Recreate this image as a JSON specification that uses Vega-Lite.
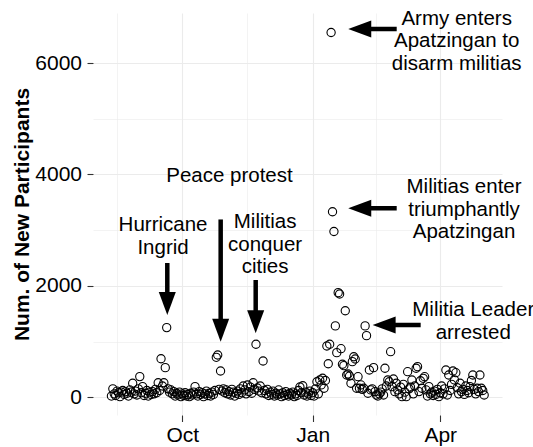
{
  "$schema": "https://vega.github.io/schema/vega-lite/v6.json",
  "width": 409,
  "height": 402,
  "autosize": {"type": "none"},
  "padding": {"left": 93, "top": 13, "right": 31, "bottom": 32},
  "background": "white",
  "config": {"view": {"stroke": null}, "font": "Liberation Sans"},
  "datasets": {
    "counts": [
      {"date":"2013-08-12","participants":20},{"date":"2013-08-13","participants":150},{"date":"2013-08-14","participants":60},{"date":"2013-08-15","participants":30},{"date":"2013-08-16","participants":110},{"date":"2013-08-17","participants":80},{"date":"2013-08-18","participants":10},{"date":"2013-08-19","participants":90},{"date":"2013-08-20","participants":120},{"date":"2013-08-21","participants":50},{"date":"2013-08-22","participants":100},{"date":"2013-08-23","participants":70},{"date":"2013-08-24","participants":20},{"date":"2013-08-25","participants":130},{"date":"2013-08-26","participants":90},{"date":"2013-08-27","participants":250},{"date":"2013-08-28","participants":60},{"date":"2013-08-29","participants":110},{"date":"2013-08-30","participants":40},{"date":"2013-08-31","participants":150},
      {"date":"2013-09-01","participants":370},{"date":"2013-09-02","participants":80},{"date":"2013-09-03","participants":190},{"date":"2013-09-04","participants":30},{"date":"2013-09-05","participants":70},{"date":"2013-09-06","participants":120},{"date":"2013-09-07","participants":20},{"date":"2013-09-08","participants":90},{"date":"2013-09-09","participants":50},{"date":"2013-09-10","participants":100},{"date":"2013-09-11","participants":60},{"date":"2013-09-12","participants":140},{"date":"2013-09-13","participants":80},{"date":"2013-09-14","participants":260},{"date":"2013-09-15","participants":120},{"date":"2013-09-16","participants":690},{"date":"2013-09-17","participants":200},{"date":"2013-09-18","participants":260},{"date":"2013-09-19","participants":530},{"date":"2013-09-20","participants":1250},{"date":"2013-09-21","participants":150},{"date":"2013-09-22","participants":90},{"date":"2013-09-23","participants":130},{"date":"2013-09-24","participants":60},{"date":"2013-09-25","participants":100},{"date":"2013-09-26","participants":20},{"date":"2013-09-27","participants":70},{"date":"2013-09-28","participants":40},{"date":"2013-09-29","participants":90},{"date":"2013-09-30","participants":10},
      {"date":"2013-10-01","participants":60},{"date":"2013-10-02","participants":30},{"date":"2013-10-03","participants":80},{"date":"2013-10-04","participants":20},{"date":"2013-10-05","participants":50},{"date":"2013-10-06","participants":10},{"date":"2013-10-07","participants":70},{"date":"2013-10-08","participants":40},{"date":"2013-10-09","participants":90},{"date":"2013-10-10","participants":190},{"date":"2013-10-11","participants":60},{"date":"2013-10-12","participants":20},{"date":"2013-10-13","participants":100},{"date":"2013-10-14","participants":50},{"date":"2013-10-15","participants":80},{"date":"2013-10-16","participants":10},{"date":"2013-10-17","participants":60},{"date":"2013-10-18","participants":110},{"date":"2013-10-19","participants":30},{"date":"2013-10-20","participants":70},{"date":"2013-10-21","participants":20},{"date":"2013-10-22","participants":90},{"date":"2013-10-23","participants":50},{"date":"2013-10-24","participants":120},{"date":"2013-10-25","participants":716},{"date":"2013-10-26","participants":758},{"date":"2013-10-27","participants":140},{"date":"2013-10-28","participants":470},{"date":"2013-10-29","participants":110},{"date":"2013-10-30","participants":150},{"date":"2013-10-31","participants":80},
      {"date":"2013-11-01","participants":130},{"date":"2013-11-02","participants":60},{"date":"2013-11-03","participants":100},{"date":"2013-11-04","participants":40},{"date":"2013-11-05","participants":140},{"date":"2013-11-06","participants":90},{"date":"2013-11-07","participants":20},{"date":"2013-11-08","participants":70},{"date":"2013-11-09","participants":110},{"date":"2013-11-10","participants":50},{"date":"2013-11-11","participants":150},{"date":"2013-11-12","participants":80},{"date":"2013-11-13","participants":200},{"date":"2013-11-14","participants":130},{"date":"2013-11-15","participants":60},{"date":"2013-11-16","participants":219},{"date":"2013-11-17","participants":100},{"date":"2013-11-18","participants":180},{"date":"2013-11-19","participants":70},{"date":"2013-11-20","participants":260},{"date":"2013-11-21","participants":140},{"date":"2013-11-22","participants":950},{"date":"2013-11-23","participants":165},{"date":"2013-11-24","participants":110},{"date":"2013-11-25","participants":200},{"date":"2013-11-26","participants":80},{"date":"2013-11-27","participants":650},{"date":"2013-11-28","participants":120},{"date":"2013-11-29","participants":60},{"date":"2013-11-30","participants":140},
      {"date":"2013-12-01","participants":30},{"date":"2013-12-02","participants":90},{"date":"2013-12-03","participants":50},{"date":"2013-12-04","participants":110},{"date":"2013-12-05","participants":20},{"date":"2013-12-06","participants":70},{"date":"2013-12-07","participants":40},{"date":"2013-12-08","participants":130},{"date":"2013-12-09","participants":60},{"date":"2013-12-10","participants":10},{"date":"2013-12-11","participants":80},{"date":"2013-12-12","participants":30},{"date":"2013-12-13","participants":100},{"date":"2013-12-14","participants":50},{"date":"2013-12-15","participants":20},{"date":"2013-12-16","participants":70},{"date":"2013-12-17","participants":40},{"date":"2013-12-18","participants":90},{"date":"2013-12-19","participants":10},{"date":"2013-12-20","participants":60},{"date":"2013-12-21","participants":30},{"date":"2013-12-22","participants":120},{"date":"2013-12-23","participants":183},{"date":"2013-12-24","participants":80},{"date":"2013-12-25","participants":206},{"date":"2013-12-26","participants":40},{"date":"2013-12-27","participants":90},{"date":"2013-12-28","participants":20},{"date":"2013-12-29","participants":60},{"date":"2013-12-30","participants":110},{"date":"2013-12-31","participants":30},
      {"date":"2014-01-01","participants":80},{"date":"2014-01-02","participants":20},{"date":"2014-01-03","participants":150},{"date":"2014-01-04","participants":278},{"date":"2014-01-05","participants":60},{"date":"2014-01-06","participants":309},{"date":"2014-01-07","participants":220},{"date":"2014-01-08","participants":340},{"date":"2014-01-09","participants":160},{"date":"2014-01-10","participants":300},{"date":"2014-01-11","participants":920},{"date":"2014-01-12","participants":600},{"date":"2014-01-13","participants":950},{"date":"2014-01-14","participants":6550},{"date":"2014-01-15","participants":3330},{"date":"2014-01-16","participants":2975},{"date":"2014-01-17","participants":1280},{"date":"2014-01-18","participants":800},{"date":"2014-01-19","participants":1877},{"date":"2014-01-20","participants":1853},{"date":"2014-01-21","participants":871},{"date":"2014-01-22","participants":591},{"date":"2014-01-23","participants":566},{"date":"2014-01-24","participants":1553},{"date":"2014-01-25","participants":399},{"date":"2014-01-26","participants":417},{"date":"2014-01-27","participants":381},{"date":"2014-01-28","participants":250},{"date":"2014-01-29","participants":638},{"date":"2014-01-30","participants":727},{"date":"2014-01-31","participants":686},
      {"date":"2014-02-01","participants":160},{"date":"2014-02-02","participants":368},{"date":"2014-02-03","participants":160},{"date":"2014-02-04","participants":220},{"date":"2014-02-05","participants":140},{"date":"2014-02-06","participants":160},{"date":"2014-02-07","participants":1280},{"date":"2014-02-08","participants":1105},{"date":"2014-02-09","participants":70},{"date":"2014-02-10","participants":489},{"date":"2014-02-11","participants":130},{"date":"2014-02-12","participants":150},{"date":"2014-02-13","participants":530},{"date":"2014-02-14","participants":100},{"date":"2014-02-15","participants":40},{"date":"2014-02-16","participants":20},{"date":"2014-02-17","participants":60},{"date":"2014-02-18","participants":90},{"date":"2014-02-19","participants":150},{"date":"2014-02-20","participants":40},{"date":"2014-02-21","participants":519},{"date":"2014-02-22","participants":200},{"date":"2014-02-23","participants":309},{"date":"2014-02-24","participants":278},{"date":"2014-02-25","participants":817},{"date":"2014-02-26","participants":189},{"date":"2014-02-27","participants":327},{"date":"2014-02-28","participants":99},
      {"date":"2014-03-01","participants":250},{"date":"2014-03-02","participants":130},{"date":"2014-03-03","participants":60},{"date":"2014-03-04","participants":180},{"date":"2014-03-05","participants":10},{"date":"2014-03-06","participants":230},{"date":"2014-03-07","participants":90},{"date":"2014-03-08","participants":9},{"date":"2014-03-09","participants":458},{"date":"2014-03-10","participants":150},{"date":"2014-03-11","participants":180},{"date":"2014-03-12","participants":309},{"date":"2014-03-13","participants":60},{"date":"2014-03-14","participants":200},{"date":"2014-03-15","participants":519},{"date":"2014-03-16","participants":548},{"date":"2014-03-17","participants":100},{"date":"2014-03-18","participants":296},{"date":"2014-03-19","participants":160},{"date":"2014-03-20","participants":339},{"date":"2014-03-21","participants":368},{"date":"2014-03-22","participants":130},{"date":"2014-03-23","participants":20},{"date":"2014-03-24","participants":189},{"date":"2014-03-25","participants":60},{"date":"2014-03-26","participants":90},{"date":"2014-03-27","participants":30},{"date":"2014-03-28","participants":110},{"date":"2014-03-29","participants":50},{"date":"2014-03-30","participants":140},{"date":"2014-03-31","participants":10},
      {"date":"2014-04-01","participants":80},{"date":"2014-04-02","participants":200},{"date":"2014-04-03","participants":60},{"date":"2014-04-04","participants":150},{"date":"2014-04-05","participants":489},{"date":"2014-04-06","participants":40},{"date":"2014-04-07","participants":399},{"date":"2014-04-08","participants":120},{"date":"2014-04-09","participants":230},{"date":"2014-04-10","participants":470},{"date":"2014-04-11","participants":310},{"date":"2014-04-12","participants":440},{"date":"2014-04-13","participants":170},{"date":"2014-04-14","participants":60},{"date":"2014-04-15","participants":250},{"date":"2014-04-16","participants":100},{"date":"2014-04-17","participants":140},{"date":"2014-04-18","participants":50},{"date":"2014-04-19","participants":200},{"date":"2014-04-20","participants":120},{"date":"2014-04-21","participants":80},{"date":"2014-04-22","participants":190},{"date":"2014-04-23","participants":300},{"date":"2014-04-24","participants":399},{"date":"2014-04-25","participants":140},{"date":"2014-04-26","participants":60},{"date":"2014-04-27","participants":160},{"date":"2014-04-28","participants":100},{"date":"2014-04-29","participants":399},{"date":"2014-04-30","participants":160},
      {"date":"2014-05-01","participants":120},{"date":"2014-05-02","participants":40}
    ],
    "notes": [
      {"date":"2014-04-12T14:00:00Z","value":6795,"label":"Army enters\nApatzingan to\ndisarm militias"},
      {"date":"2014-04-17T19:00:00Z","value":3773,"label":"Militias enter\ntriumphantly\nApatzingan"},
      {"date":"2014-04-24T07:00:00Z","value":1557,"label":"Militia Leader\narrested"},
      {"date":"2013-11-03T07:00:00Z","value":3964,"label":"Peace protest"},
      {"date":"2013-09-17T10:00:00Z","value":3084,"label":"Hurricane\nIngrid"},
      {"date":"2013-11-28T10:00:00Z","value":3143,"label":"Militias\nconquer\ncities"}
    ],
    "vArrows": [
      {"date":"2013-09-20T10:00:00Z","from":2410,"head":1683},
      {"date":"2013-10-28T02:00:00Z","from":3192,"head":1203},
      {"date":"2013-11-21T19:00:00Z","from":2105,"head":1356}
    ],
    "hArrows": [
      {"value":6613,"head":"2014-02-03T05:00:00Z","end":"2014-03-01T07:00:00Z"},
      {"value":3393,"head":"2014-02-03T05:00:00Z","end":"2014-03-01T07:00:00Z"},
      {"value":1297,"head":"2014-02-20T10:00:00Z","end":"2014-03-18T05:00:00Z"}
    ]
  },
  "layer": [
    {
      "data": {"name": "counts"},
      "mark": {"type": "point", "shape": "circle", "filled": false, "color": "black", "size": 68, "strokeWidth": 1.1, "opacity": 1},
      "encoding": {
        "x": {
          "field": "date", "type": "temporal", "title": null,
          "scale": {"type": "utc", "domain": [{"year": 2013, "month": 7, "date": 30, "utc": true}, {"year": 2014, "month": 5, "date": 14, "hours": 14, "utc": true}]},
          "axis": {
            "title": null,
            "values": [
              {"year": 2013, "month": 8, "date": 16, "utc": true},
              {"year": 2013, "month": 10, "date": 1, "utc": true},
              {"year": 2013, "month": 11, "date": 16, "utc": true},
              {"year": 2014, "month": 1, "date": 1, "utc": true},
              {"year": 2014, "month": 2, "date": 15, "utc": true},
              {"year": 2014, "month": 4, "date": 1, "utc": true}
            ],
            "labelExpr": "utcdate(datum.value) == 1 ? utcFormat(datum.value, '%b') : ''",
            "domain": false,
            "grid": true,
            "gridColor": "#ebebeb",
            "gridWidth": {"condition": {"test": "utcdate(datum.value) == 1", "value": 1.1}, "value": 0.6},
            "tickOpacity": {"condition": {"test": "utcdate(datum.value) == 1", "value": 1}, "value": 0},
            "tickColor": "#333333", "tickSize": 6.5, "tickWidth": 1.1,
            "labelFontSize": 21, "labelColor": "#000000", "labelPadding": 3, "labelFont": "Liberation Sans"
          }
        },
        "y": {
          "field": "participants", "type": "quantitative", "title": "Num. of New Participants",
          "scale": {"domain": [-320, 6900], "nice": false, "zero": false},
          "axis": {
            "title": "Num. of New Participants",
            "values": [0, 1000, 2000, 3000, 4000, 5000, 6000],
            "labelExpr": "datum.value % 2000 == 0 ? format(datum.value, 'd') : ''",
            "domain": false,
            "grid": true,
            "gridColor": "#ebebeb",
            "gridWidth": {"condition": {"test": "datum.value % 2000 == 0", "value": 1.1}, "value": 0.6},
            "tickOpacity": {"condition": {"test": "datum.value % 2000 == 0", "value": 1}, "value": 0},
            "tickColor": "#333333", "tickSize": 6, "tickWidth": 1.1,
            "labelFontSize": 21, "labelColor": "#000000", "labelPadding": 5.5, "labelFont": "Liberation Sans",
            "titleFontSize": 21, "titleFontWeight": "bold", "titleColor": "#000000", "titleFont": "Liberation Sans",
            "titleX": -64.5, "titleBaseline": "alphabetic"
          }
        }
      }
    },
    {
      "data": {"name": "vArrows"},
      "mark": {"type": "rule", "color": "black", "strokeWidth": 4.5},
      "encoding": {
        "x": {"field": "date", "type": "temporal", "title": null},
        "y": {"field": "from", "type": "quantitative", "title": "Num. of New Participants"},
        "y2": {"field": "head"}
      }
    },
    {
      "data": {"name": "vArrows"},
      "mark": {"type": "point", "shape": "M-0.74,-1L0.74,-1L0,1Z", "filled": true, "color": "black", "size": 529, "opacity": 1, "strokeWidth": 0},
      "encoding": {
        "x": {"field": "date", "type": "temporal", "title": null},
        "y": {"field": "head", "type": "quantitative", "title": "Num. of New Participants"}
      }
    },
    {
      "data": {"name": "hArrows"},
      "mark": {"type": "rule", "color": "black", "strokeWidth": 4.5},
      "encoding": {
        "y": {"field": "value", "type": "quantitative", "title": "Num. of New Participants"},
        "x": {"field": "head", "type": "temporal", "title": null},
        "x2": {"field": "end"}
      }
    },
    {
      "data": {"name": "hArrows"},
      "mark": {"type": "point", "shape": "M1,-0.74L1,0.74L-1,0Z", "filled": true, "color": "black", "size": 529, "opacity": 1, "strokeWidth": 0},
      "encoding": {
        "y": {"field": "value", "type": "quantitative", "title": "Num. of New Participants"},
        "x": {"field": "head", "type": "temporal", "title": null}
      }
    },
    {
      "data": {"name": "notes"},
      "mark": {"type": "text", "align": "center", "baseline": "middle", "fontSize": 20.5, "font": "Liberation Sans", "color": "black", "lineBreak": "\n", "lineHeight": 22.5},
      "encoding": {
        "x": {"field": "date", "type": "temporal", "title": null},
        "y": {"field": "value", "type": "quantitative", "title": "Num. of New Participants"},
        "text": {"field": "label", "type": "nominal"}
      }
    }
  ]
}
